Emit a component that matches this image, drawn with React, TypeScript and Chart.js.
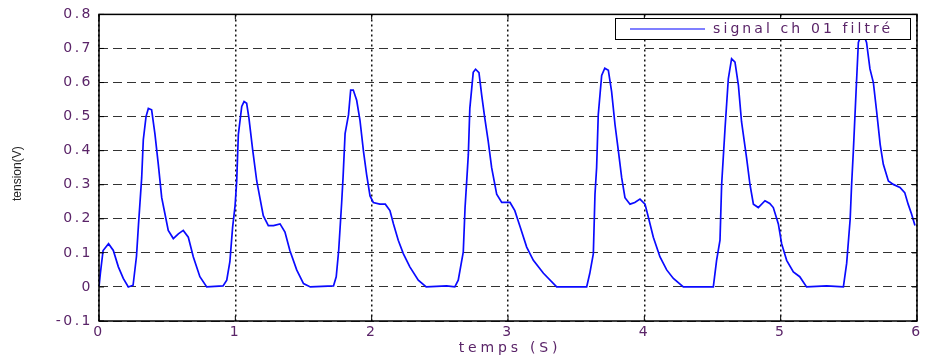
import React, { useEffect, useRef } from "react";
import { Chart, registerables } from "chart.js";

Chart.register(...registerables);

const timeS: number[] = [
  0.0, 0.01, 0.03, 0.07, 0.105, 0.142, 0.178, 0.215, 0.25, 0.275, 0.29, 0.313, 0.325, 0.345, 0.362, 0.386,
  0.41, 0.435, 0.46, 0.484, 0.508, 0.545, 0.582, 0.618, 0.655, 0.692, 0.74, 0.79, 0.91, 0.937, 0.96, 0.98,
  0.998, 1.01, 1.022, 1.047, 1.064, 1.083, 1.1, 1.127, 1.157, 1.18, 1.205, 1.242, 1.28, 1.328, 1.364, 1.4,
  1.45, 1.5, 1.55, 1.72, 1.74, 1.758, 1.78, 1.79, 1.805, 1.83, 1.846, 1.865, 1.89, 1.914, 1.94, 1.963,
  1.988, 2.012, 2.06, 2.1, 2.134, 2.16, 2.195, 2.232, 2.28, 2.342, 2.4, 2.55, 2.61, 2.635, 2.672, 2.685,
  2.697, 2.709, 2.72, 2.745, 2.762, 2.787, 2.807, 2.83, 2.855, 2.88, 2.917, 2.954, 3.015, 3.05, 3.09, 3.137,
  3.186, 3.26, 3.357, 3.577, 3.6, 3.626, 3.638, 3.65, 3.662, 3.687, 3.71, 3.736, 3.76, 3.785, 3.81, 3.834,
  3.858, 3.895, 3.93, 3.968, 4.005, 4.03, 4.066, 4.115, 4.164, 4.213, 4.286, 4.506, 4.53, 4.555, 4.567, 4.592,
  4.616, 4.64, 4.665, 4.69, 4.713, 4.75, 4.775, 4.8, 4.836, 4.885, 4.92, 4.946, 4.983, 5.007, 5.044, 5.093,
  5.14, 5.19, 5.337, 5.46, 5.484, 5.51, 5.52, 5.533, 5.553, 5.57, 5.6, 5.63, 5.655, 5.68, 5.704, 5.73,
  5.753, 5.79, 5.826, 5.875, 5.91, 5.935, 5.96, 5.985,
];

const tensionV: number[] = [
  0.0, 0.04, 0.107, 0.127, 0.107, 0.059, 0.025, 0.0, 0.005, 0.09, 0.185, 0.32, 0.432, 0.5, 0.524, 0.52,
  0.45, 0.36, 0.262, 0.214, 0.166, 0.142, 0.156, 0.166, 0.146, 0.088, 0.03, 0.0, 0.003, 0.02, 0.074, 0.175,
  0.238, 0.31, 0.447, 0.53, 0.544, 0.539, 0.495, 0.403, 0.311, 0.262, 0.209, 0.18, 0.18, 0.185, 0.161, 0.107,
  0.05, 0.01, 0.0, 0.003, 0.03, 0.107, 0.248, 0.32, 0.45, 0.505, 0.578, 0.578, 0.548, 0.49, 0.398, 0.33,
  0.267, 0.248, 0.243, 0.243, 0.224, 0.185, 0.137, 0.098, 0.059, 0.02, 0.0, 0.003, 0.0, 0.02, 0.103, 0.233,
  0.31, 0.389, 0.524, 0.63, 0.639, 0.629, 0.563, 0.495, 0.427, 0.35, 0.272, 0.248, 0.248, 0.224, 0.175, 0.117,
  0.078, 0.04, 0.0, 0.0, 0.04, 0.098, 0.272, 0.35, 0.505, 0.621, 0.642, 0.636, 0.573, 0.476, 0.398, 0.32,
  0.262, 0.243, 0.248, 0.258, 0.243, 0.204, 0.146, 0.088, 0.05, 0.025, 0.0, 0.0, 0.078, 0.137, 0.3, 0.466,
  0.611, 0.67, 0.66, 0.592, 0.485, 0.379, 0.3, 0.243, 0.233, 0.253, 0.245, 0.233, 0.185, 0.127, 0.078, 0.044,
  0.03, 0.0, 0.003, 0.0, 0.069, 0.2, 0.297, 0.398, 0.573, 0.718, 0.75, 0.718, 0.64, 0.6, 0.515, 0.418,
  0.36, 0.311, 0.301, 0.292, 0.277, 0.243, 0.214, 0.18,
];

const seriesLabel = "signal ch 01 filtré";
const xTitle = "temps (S)";
const yTitle = "tension(V)";
const xMin = 0;
const xMax = 6;
const yMin = -0.1;
const yMax = 0.8;

const TEXT_COLOR = "#5a2468";
const FONT = "'DejaVu Sans', 'Liberation Sans', sans-serif";

const spacingPlugin = {
  id: "spacing",
  beforeLayout(chart: any) {
    chart.ctx.letterSpacing = "2.5px";
  },
  beforeDraw(chart: any) {
    chart.ctx.letterSpacing = "2.5px";
  },
};

const decorPlugin = {
  id: "decor",
  afterDatasetsDraw(chart: any) {
    const ctx = chart.ctx as CanvasRenderingContext2D;
    const a = chart.chartArea;
    const xs = chart.scales.x;
    const ys = chart.scales.y;
    ctx.save();
    (ctx as any).letterSpacing = "0px";
    // box
    ctx.strokeStyle = "#000";
    ctx.lineWidth = 1.5;
    ctx.setLineDash([]);
    ctx.strokeRect(a.left, a.top, a.right - a.left, a.bottom - a.top);
    // inward ticks
    ctx.lineWidth = 1;
    xs.ticks.forEach((t: any) => {
      const px = xs.getPixelForValue(t.value);
      ctx.beginPath();
      ctx.moveTo(px, a.bottom);
      ctx.lineTo(px, a.bottom - 5);
      ctx.moveTo(px, a.top);
      ctx.lineTo(px, a.top + 5);
      ctx.stroke();
    });
    ys.ticks.forEach((t: any) => {
      const py = ys.getPixelForValue(t.value);
      ctx.beginPath();
      ctx.moveTo(a.left, py);
      ctx.lineTo(a.left + 5, py);
      ctx.moveTo(a.right, py);
      ctx.lineTo(a.right - 5, py);
      ctx.stroke();
    });
    // legend
    const lx = 615, ly = 18, lw = 295, lh = 21;
    ctx.fillStyle = "#fff";
    ctx.fillRect(lx, ly, lw, lh);
    ctx.strokeStyle = "#000";
    ctx.lineWidth = 1;
    ctx.strokeRect(lx + 0.5, ly + 0.5, lw, lh);
    ctx.strokeStyle = "#0000ff";
    ctx.lineWidth = 1.2;
    ctx.beginPath();
    ctx.moveTo(630, ly + lh / 2 + 0.5);
    ctx.lineTo(705, ly + lh / 2 + 0.5);
    ctx.stroke();
    (ctx as any).letterSpacing = "3.1px";
    ctx.fillStyle = TEXT_COLOR;
    ctx.font = `14px ${FONT}`;
    ctx.textAlign = "left";
    ctx.textBaseline = "middle";
    ctx.fillText(seriesLabel, 713, ly + lh / 2 + 1);
    // x title
    (ctx as any).letterSpacing = "3.8px";
    ctx.textAlign = "center";
    ctx.fillText(xTitle, (a.left + a.right) / 2 + 2, 348);
    // y title
    (ctx as any).letterSpacing = "0px";
    ctx.fillStyle = "#222";
    ctx.font = `12px 'Liberation Sans', Arial, sans-serif`;
    ctx.translate(18, (a.top + a.bottom) / 2 + 6);
    ctx.rotate(-Math.PI / 2);
    ctx.fillText(yTitle, 0, 0);
    ctx.restore();
  },
};

export default function App() {
  const ref = useRef<HTMLCanvasElement | null>(null);
  useEffect(() => {
    if (!ref.current) return;
    const points = timeS.map((t, i) => ({ x: t, y: tensionV[i] }));
    const chart = new Chart(ref.current, {
      type: "line",
      data: {
        datasets: [
          {
            label: seriesLabel,
            data: points,
            borderColor: "#0a0aff",
            borderWidth: 1.7,
            pointRadius: 0,
            tension: 0,
            fill: false,
          },
        ],
      },
      options: {
        animation: false,
        responsive: false,
        maintainAspectRatio: false,
        layout: { padding: { left: 0, right: 10, top: 12, bottom: 0 } },
        plugins: {
          legend: { display: false },
          tooltip: { enabled: false },
        },
        scales: {
          x: {
            type: "linear",
            min: xMin,
            max: xMax,
            afterFit(scale: any) {
              scale.height = 39;
            },
            ticks: {
              stepSize: 1,
              color: TEXT_COLOR,
              font: { family: FONT, size: 14 },
              padding: 3,
              maxRotation: 0,
              callback: (v: any) => String(Number(v)),
            },
            grid: {
              color: "#111",
              lineWidth: 1.5,
              drawTicks: false,
            },
            border: { display: false, dash: [2, 3] } as any,
          },
          y: {
            type: "linear",
            min: yMin,
            max: yMax,
            afterFit(scale: any) {
              scale.width = 99;
            },
            ticks: {
              stepSize: 0.1,
              color: TEXT_COLOR,
              font: { family: FONT, size: 14 },
              padding: 6,
              callback: (v: any) => String(Number(Number(v).toFixed(1))),
            },
            grid: {
              color: "#333",
              lineWidth: 1,
              drawTicks: false,
            },
            border: { display: false, dash: [9, 5] } as any,
          },
        },
      },
      plugins: [spacingPlugin, decorPlugin],
    });
    return () => chart.destroy();
  }, []);
  return (
    <div style={{ position: "fixed", left: 0, top: 0, width: 927, height: 360, background: "#fff" }}>
      <canvas ref={ref} width={927} height={360} style={{ width: 927, height: 360, display: "block" }} />
    </div>
  );
}
